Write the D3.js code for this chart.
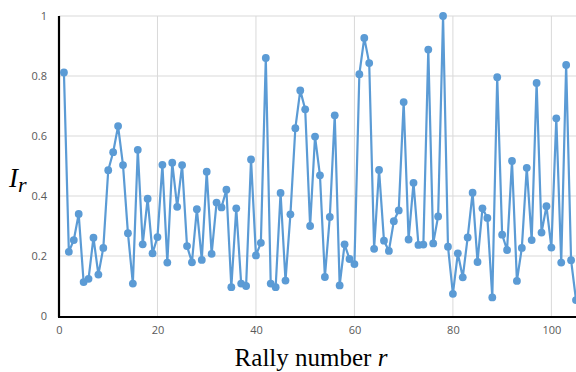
<!DOCTYPE html>
<html>
<head>
<meta charset="utf-8">
<script src="https://cdn.jsdelivr.net/npm/d3@7"></script>
<style>
  html, body { margin: 0; padding: 0; background: #fff; }
  svg { display: block; }
</style>
</head>
<body>
<svg id="chart" width="576" height="372"></svg>
<script>
// Rally index I_r for each rally r = 1..105
const rallies = d3.range(1, 106);
const intensity = [
  0.812, 0.214, 0.253, 0.340, 0.113, 0.124, 0.261, 0.138, 0.227, 0.486,
  0.546, 0.633, 0.503, 0.276, 0.108, 0.554, 0.239, 0.391, 0.209, 0.263,
  0.504, 0.178, 0.511, 0.364, 0.503, 0.233, 0.179, 0.356, 0.187, 0.481,
  0.207, 0.378, 0.362, 0.421, 0.096, 0.359, 0.108, 0.100, 0.522, 0.202,
  0.244, 0.860, 0.108, 0.096, 0.410, 0.118, 0.339, 0.626, 0.752, 0.689,
  0.300, 0.598, 0.469, 0.130, 0.330, 0.669, 0.102, 0.239, 0.190, 0.173,
  0.806, 0.927, 0.843, 0.224, 0.487, 0.251, 0.217, 0.316, 0.352, 0.713,
  0.255, 0.444, 0.237, 0.238, 0.888, 0.242, 0.332, 1.000, 0.231, 0.074,
  0.209, 0.129, 0.262, 0.411, 0.180, 0.359, 0.327, 0.062, 0.796, 0.271,
  0.220, 0.517, 0.117, 0.227, 0.494, 0.253, 0.777, 0.278, 0.366, 0.228,
  0.659, 0.178, 0.837, 0.186, 0.053
];
const xTicks = [0, 20, 40, 60, 80, 100];
const yTicks = [0, 0.2, 0.4, 0.6, 0.8, 1];
const xTitle = "Rally number ";
const xTitleVar = "r";

const points = rallies.map((r, i) => ({ r, v: intensity[i] }));

const svg = d3.select("#chart");
const x = d3.scaleLinear().domain([0, 105]).range([59, 576]);
const y = d3.scaleLinear().domain([0, 1]).range([316, 16]);

const tickFont = "'Open Sans', 'Noto Sans', sans-serif";
const tickColor = "#595959";

// gridlines
svg.append("g")
  .selectAll("line.h")
  .data(yTicks.filter(d => d > 0))
  .join("line")
  .attr("x1", x(0)).attr("x2", 576)
  .attr("y1", d => y(d)).attr("y2", d => y(d))
  .attr("stroke", "#d9d9d9").attr("stroke-width", 1);

svg.append("g")
  .selectAll("line.v")
  .data(xTicks.filter(d => d > 0))
  .join("line")
  .attr("x1", d => x(d)).attr("x2", d => x(d))
  .attr("y1", y(1)).attr("y2", y(0))
  .attr("stroke", "#d9d9d9").attr("stroke-width", 1);

// axes
const yAxis = d3.axisLeft(y).tickValues(yTicks).tickSize(0).tickPadding(12)
  .tickFormat(d3.format("~g"));
const gy = svg.append("g").attr("transform", `translate(${x(0)},0)`).call(yAxis);
gy.select(".domain").remove();
gy.selectAll("text").attr("font-family", tickFont).attr("font-size", 11)
  .attr("fill", tickColor);

const xAxis = d3.axisBottom(x).tickValues(xTicks).tickSize(0).tickPadding(10)
  .tickFormat(d3.format("d"));
const gx = svg.append("g").attr("transform", `translate(0,${y(0)})`).call(xAxis);
gx.select(".domain").remove();
gx.selectAll("text").attr("font-family", tickFont).attr("font-size", 11)
  .attr("fill", tickColor);

svg.append("line")
  .attr("x1", x(0)).attr("x2", x(0))
  .attr("y1", y(1)).attr("y2", y(0) + 1)
  .attr("stroke", "#000").attr("stroke-width", 2.2);
svg.append("line")
  .attr("x1", x(0) - 1).attr("x2", 576)
  .attr("y1", y(0) + 1).attr("y2", y(0) + 1)
  .attr("stroke", "#000").attr("stroke-width", 2.2);

// series
const blue = "#5b9bd5";
const line = d3.line().x(d => x(d.r)).y(d => y(d.v));
svg.append("path")
  .datum(points)
  .attr("d", line)
  .attr("fill", "none")
  .attr("stroke", blue)
  .attr("stroke-width", 2.2)
  .attr("stroke-linejoin", "round");

svg.append("g")
  .selectAll("circle")
  .data(points)
  .join("circle")
  .attr("cx", d => x(d.r))
  .attr("cy", d => y(d.v))
  .attr("r", 3.9)
  .attr("fill", blue);

// axis titles
const serif = "'Liberation Serif', 'Times New Roman', serif";
const xt = svg.append("text")
  .attr("x", 311).attr("y", 366)
  .attr("text-anchor", "middle")
  .attr("font-family", serif).attr("font-size", 25)
  .attr("fill", "#000");
xt.append("tspan").text(xTitle);
xt.append("tspan").attr("font-style", "italic").text(xTitleVar);

const yt = svg.append("text")
  .attr("x", 9).attr("y", 187)
  .attr("font-family", serif).attr("font-size", 27)
  .attr("font-style", "italic")
  .attr("fill", "#000");
yt.append("tspan").text("I");
yt.append("tspan").attr("font-size", 22).attr("dy", 5).text("r");
</script>
</body>
</html>
